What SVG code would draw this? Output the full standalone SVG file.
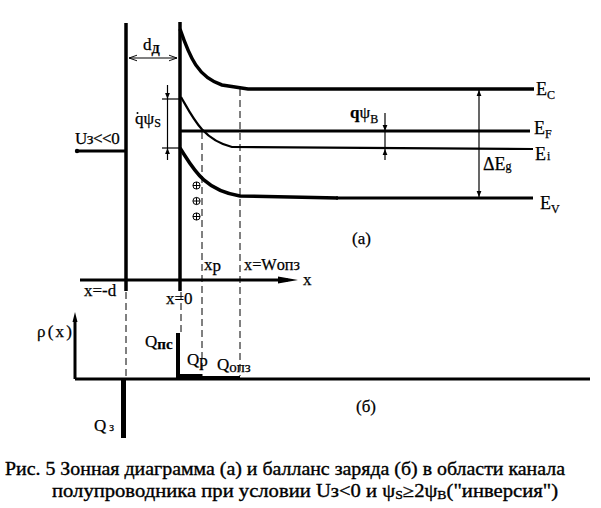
<svg xmlns="http://www.w3.org/2000/svg" width="601" height="508" viewBox="0 0 601 508" font-family="'Liberation Serif', 'Times New Roman', 'DejaVu Serif', serif">
<style>
text{font-family:"Liberation Serif","Times New Roman","DejaVu Serif",serif;fill:#000;stroke:#000;stroke-width:0.25}
.lab{font-size:17px}
.elab{font-size:18px}
.sub{font-size:12px}
.cap{font-size:18px;stroke-width:0.35}
.thick{stroke:#000;fill:none;stroke-width:3.5}
.mid{stroke:#000;fill:none;stroke-width:3}
.band2{stroke:#000;fill:none;stroke-width:2.2}
.thin{stroke:#000;fill:none;stroke-width:1.2}
.pl{stroke:#000;fill:none;stroke-width:1}
.dash{stroke:#000;fill:none;stroke-width:1;stroke-dasharray:7,4}
</style>
<defs>
<marker id="fa" viewBox="0 0 10 10" refX="10" refY="5" markerWidth="7" markerHeight="6" markerUnits="userSpaceOnUse" orient="auto">
<path d="M0,1 L10,5 L0,9 z" fill="#000"/>
</marker>
<marker id="oa" viewBox="0 0 10 10" refX="10" refY="5" markerWidth="8" markerHeight="8" markerUnits="userSpaceOnUse" orient="auto-start-reverse">
<path d="M0,1.5 L10,5 L0,8.5" fill="none" stroke="#000" stroke-width="1.2"/>
</marker>
</defs>

<g id="electrodes">
<line class="thick" x1="126" y1="23" x2="126" y2="291"/>
<line class="thick" x1="180" y1="22" x2="180" y2="291"/>
<line class="mid" x1="77" y1="151" x2="126" y2="151"/>
<circle cx="77" cy="151" r="2.2" fill="#000"/>
<text class="lab" x="75" y="144" font-size="18" letter-spacing="-0.5">Uз&lt;&lt;0</text>
</g>

<g id="bands">
<path class="thick" d="M180,29 C190,58 198,77 222,85 L248,89 L534,89"/>
<path class="mid" d="M180,131 L530,131"/>
<path class="band2" d="M181,97 C193,118 203,140 232,147 L533,149"/>
<path class="thick" d="M180,148 C193,168 203,190 240,196 L338,198"/>
<line class="mid" x1="336" y1="198" x2="533" y2="198"/>
<text class="elab" x="536" y="95">E<tspan class="sub" dy="4">C</tspan></text>
<text class="elab" x="534" y="134">E<tspan class="sub" dy="4">F</tspan></text>
<text class="elab" x="535" y="160">E<tspan class="sub" dx="1">i</tspan></text>
<text class="elab" x="540" y="209">E<tspan class="sub" dy="4">V</tspan></text>
</g>

<g id="charges">
<g class="pl">
<circle cx="196.5" cy="185.5" r="3.6"/>
<path d="M193,185.5 H200 M196.5,182 V189"/>
<circle cx="196.5" cy="201" r="3.6"/>
<path d="M193,201 H200 M196.5,197.5 V204.5"/>
<circle cx="196.5" cy="216.5" r="3.6"/>
<path d="M193,216.5 H200 M196.5,213 V220"/>
</g>
</g>

<g id="connectors">
<line class="dash" x1="202" y1="132" x2="202" y2="376"/>
<line class="dash" x1="240" y1="89" x2="240" y2="376"/>
<line class="dash" x1="126" y1="292" x2="126" y2="379"/>
<line class="dash" x1="181" y1="292" x2="181" y2="334"/>
<line class="thin" x1="129" y1="58" x2="177" y2="58" marker-start="url(#oa)" marker-end="url(#oa)"/>
<line class="thin" x1="162" y1="99" x2="181" y2="99"/>
<line class="thin" x1="162" y1="148" x2="181" y2="148"/>
<line class="thin" x1="167.5" y1="85" x2="167.5" y2="99" marker-end="url(#fa)"/>
<line class="thin" x1="167.5" y1="160" x2="167.5" y2="148" marker-end="url(#fa)"/>
<line class="thin" x1="167.5" y1="99" x2="167.5" y2="148"/>
<line class="thin" x1="385" y1="113" x2="385" y2="131" marker-end="url(#fa)"/>
<line class="thin" x1="385" y1="131" x2="385" y2="149"/>
<line class="thin" x1="385" y1="160" x2="385" y2="149" marker-end="url(#fa)"/>
<line class="thin" x1="479" y1="110" x2="479" y2="90" marker-end="url(#fa)"/>
<line class="thin" x1="479" y1="110" x2="479" y2="197" marker-end="url(#fa)"/>
<line class="mid" x1="80" y1="280" x2="288" y2="280"/>
<path d="M278,276.5 L298,280 L278,283.5 z" fill="#000"/>
<line class="mid" x1="75" y1="379" x2="590" y2="379"/>
<line class="mid" x1="75" y1="379" x2="75" y2="320"/>
<path d="M72.5,322 L75,312 L77.5,322 z" fill="#000"/>
</g>

<g id="dim-labels">
<text class="lab" x="143" y="50">d<tspan class="sub" font-weight="bold" dy="3">Д</tspan></text>
<circle cx="137.5" cy="113" r="1" fill="#000"/>
<text class="lab" x="135" y="124">qψ<tspan class="sub" dy="3">S</tspan></text>
<text class="lab" x="350" y="118" font-weight="bold">q<tspan font-weight="normal">ψ</tspan><tspan class="sub" font-weight="normal" dy="5">B</tspan></text>
<text class="elab" x="483" y="170">ΔE<tspan class="sub">g</tspan></text>
<text class="lab" x="352" y="244">(а)</text>
</g>

<g id="axis-labels">
<text class="lab" x="303" y="285">x</text>
<text class="lab" x="84" y="296">x=-d</text>
<text class="lab" x="166" y="304">x=0</text>
<text class="lab" x="204" y="270">x<tspan dy="1">p</tspan></text>
<text class="lab" x="244" y="270" textLength="56" lengthAdjust="spacingAndGlyphs">x=Wопз</text>
</g>

<g id="charge-diagram">
<line stroke="#000" stroke-width="4" x1="178" y1="333" x2="178" y2="379"/>
<line stroke="#000" stroke-width="5" x1="176" y1="376.5" x2="202" y2="376.5"/>
<line stroke="#000" stroke-width="3" x1="202" y1="377.5" x2="240" y2="377.5"/>
<line stroke="#000" stroke-width="5" x1="123.5" y1="379" x2="123.5" y2="438"/>
<text class="lab" x="37" y="337" textLength="35" lengthAdjust="spacing">ρ(x)</text>
<text class="lab" x="145" y="347">Q<tspan font-weight="bold" font-size="15" dy="2">пс</tspan></text>
<text class="lab" x="187" y="365">Q<tspan dy="1">p</tspan></text>
<text class="lab" x="217" y="370">Q<tspan font-size="15" dy="2">опз</tspan></text>
<text class="lab" x="94" y="431">Q<tspan class="sub" dx="3" font-size="13">з</tspan></text>
<text class="lab" x="356" y="412">(б)</text>
</g>

<g id="caption">
<text class="cap" x="5" y="475" textLength="560" lengthAdjust="spacingAndGlyphs">Рис. 5 Зонная диаграмма (а) и балланс заряда (б) в области канала</text>
<text class="cap" x="52" y="497" textLength="506" lengthAdjust="spacingAndGlyphs">полупроводника при условии Uз&lt;0 и ψ<tspan font-size="12" dy="2">S</tspan><tspan dy="-2">≥2ψ</tspan><tspan font-size="12" dy="2">B</tspan><tspan dy="-2">("инверсия")</tspan></text>
</g>
</svg>
